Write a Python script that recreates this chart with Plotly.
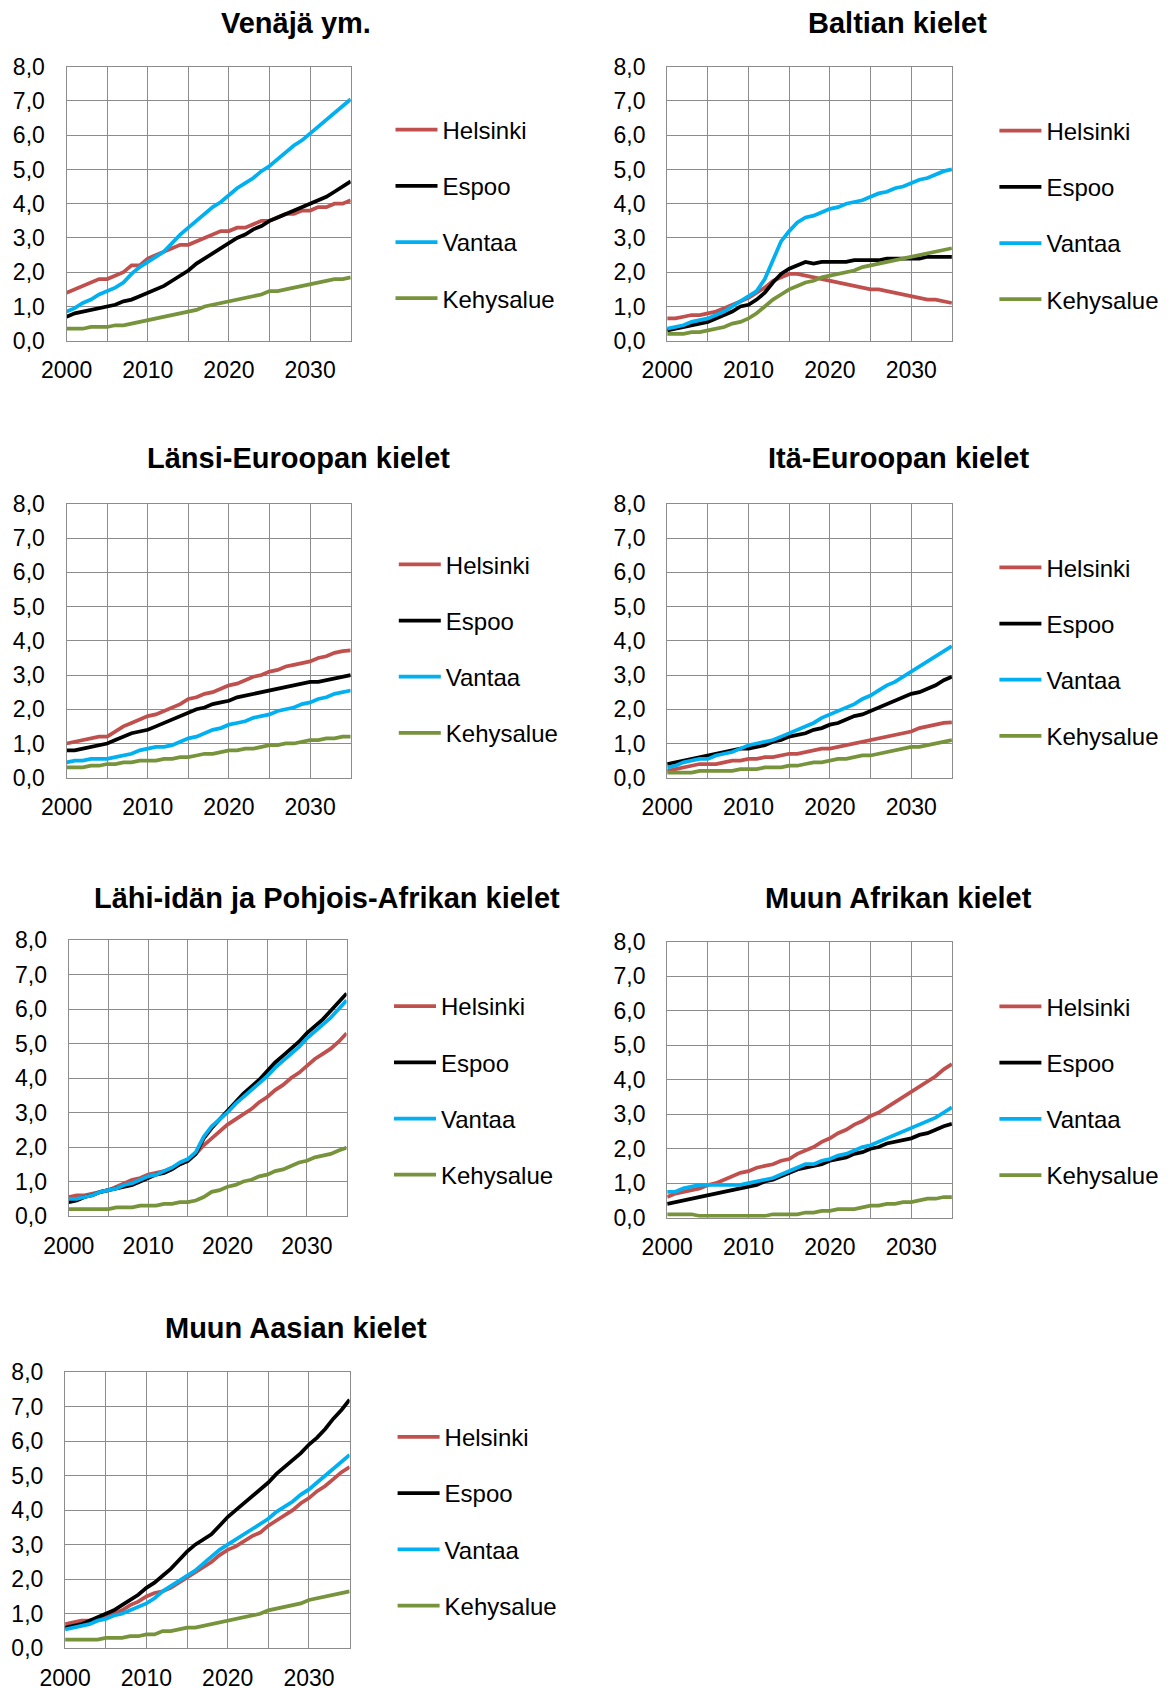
import plotly.graph_objects as go

years = list(range(2000, 2036))
series_names = ["Helsinki", "Espoo", "Vantaa", "Kehysalue"]
series_colors = ["#C0504D", "#000000", "#00B0F0", "#77933C"]
x_tickvals = [2000, 2005, 2010, 2015, 2020, 2025, 2030, 2035]
x_ticktext = ["2000", "", "2010", "", "2020", "", "2030", ""]
y_tickvals = [0, 1, 2, 3, 4, 5, 6, 7, 8]

titles = ["Venäjä ym.", "Baltian kielet", "Länsi-Euroopan kielet", "Itä-Euroopan kielet",
          "Lähi-idän ja Pohjois-Afrikan kielet", "Muun Afrikan kielet", "Muun Aasian kielet"]

# Venäjä ym.
venaja_helsinki = [1.4, 1.5, 1.6, 1.7, 1.8, 1.8, 1.9, 2.0, 2.2, 2.2, 2.4, 2.5, 2.6, 2.7, 2.8, 2.8, 2.9, 3.0,
                   3.1, 3.2, 3.2, 3.3, 3.3, 3.4, 3.5, 3.5, 3.6, 3.7, 3.7, 3.8, 3.8, 3.9, 3.9, 4.0, 4.0, 4.1]
venaja_espoo = [0.7, 0.8, 0.85, 0.9, 0.95, 1.0, 1.05, 1.15, 1.2, 1.3, 1.4, 1.5, 1.6, 1.75, 1.9, 2.05, 2.25, 2.4,
                2.55, 2.7, 2.85, 3.0, 3.1, 3.25, 3.35, 3.5, 3.6, 3.7, 3.8, 3.9, 4.0, 4.1, 4.2, 4.35, 4.5, 4.65]
venaja_vantaa = [0.85, 0.95, 1.1, 1.2, 1.35, 1.45, 1.55, 1.7, 1.95, 2.15, 2.3, 2.45, 2.6, 2.85, 3.1, 3.3, 3.5, 3.7,
                 3.9, 4.05, 4.25, 4.45, 4.6, 4.75, 4.95, 5.1, 5.3, 5.5, 5.7, 5.85, 6.05, 6.25, 6.45, 6.65, 6.85, 7.05]
venaja_kehys = [0.35, 0.35, 0.35, 0.4, 0.4, 0.4, 0.45, 0.45, 0.5, 0.55, 0.6, 0.65, 0.7, 0.75, 0.8, 0.85, 0.9, 1.0,
                1.05, 1.1, 1.15, 1.2, 1.25, 1.3, 1.35, 1.45, 1.45, 1.5, 1.55, 1.6, 1.65, 1.7, 1.75, 1.8, 1.8, 1.85]

# Baltian kielet
baltia_helsinki = [0.65, 0.65, 0.7, 0.75, 0.75, 0.8, 0.85, 0.95, 1.05, 1.15, 1.25, 1.4, 1.55, 1.75, 1.85, 1.95, 1.95, 1.9,
                   1.85, 1.8, 1.75, 1.7, 1.65, 1.6, 1.55, 1.5, 1.5, 1.45, 1.4, 1.35, 1.3, 1.25, 1.2, 1.2, 1.15, 1.1]
baltia_espoo = [0.3, 0.35, 0.4, 0.45, 0.5, 0.55, 0.65, 0.75, 0.85, 1.0, 1.05, 1.2, 1.4, 1.7, 1.95, 2.1, 2.2, 2.3,
                2.25, 2.3, 2.3, 2.3, 2.3, 2.35, 2.35, 2.35, 2.35, 2.4, 2.4, 2.4, 2.4, 2.4, 2.45, 2.45, 2.45, 2.45]
baltia_vantaa = [0.35, 0.4, 0.45, 0.55, 0.6, 0.65, 0.75, 0.85, 1.0, 1.15, 1.3, 1.45, 1.8, 2.35, 2.9, 3.2, 3.45, 3.6,
                 3.65, 3.75, 3.85, 3.9, 4.0, 4.05, 4.1, 4.2, 4.3, 4.35, 4.45, 4.5, 4.6, 4.7, 4.75, 4.85, 4.95, 5.0]
baltia_kehys = [0.2, 0.2, 0.2, 0.25, 0.25, 0.3, 0.35, 0.4, 0.5, 0.55, 0.65, 0.8, 1.0, 1.2, 1.35, 1.5, 1.6, 1.7,
                1.75, 1.85, 1.9, 1.95, 2.0, 2.05, 2.15, 2.2, 2.25, 2.3, 2.35, 2.4, 2.45, 2.5, 2.55, 2.6, 2.65, 2.7]

# Länsi-Euroopan kielet
lansi_helsinki = [1.0, 1.05, 1.1, 1.15, 1.2, 1.2, 1.35, 1.5, 1.6, 1.7, 1.8, 1.85, 1.95, 2.05, 2.15, 2.3, 2.35, 2.45,
                  2.5, 2.6, 2.7, 2.75, 2.85, 2.95, 3.0, 3.1, 3.15, 3.25, 3.3, 3.35, 3.4, 3.5, 3.55, 3.65, 3.7, 3.72]
lansi_espoo = [0.8, 0.8, 0.85, 0.9, 0.95, 1.0, 1.1, 1.2, 1.3, 1.35, 1.4, 1.5, 1.6, 1.7, 1.8, 1.9, 2.0, 2.05,
               2.15, 2.2, 2.25, 2.35, 2.4, 2.45, 2.5, 2.55, 2.6, 2.65, 2.7, 2.75, 2.8, 2.8, 2.85, 2.9, 2.95, 3.0]
lansi_vantaa = [0.45, 0.5, 0.5, 0.55, 0.55, 0.55, 0.6, 0.65, 0.7, 0.8, 0.85, 0.9, 0.9, 0.95, 1.05, 1.15, 1.2, 1.3,
                1.4, 1.45, 1.55, 1.6, 1.65, 1.75, 1.8, 1.85, 1.95, 2.0, 2.05, 2.15, 2.2, 2.3, 2.35, 2.45, 2.5, 2.55]
lansi_kehys = [0.3, 0.3, 0.3, 0.35, 0.35, 0.4, 0.4, 0.45, 0.45, 0.5, 0.5, 0.5, 0.55, 0.55, 0.6, 0.6, 0.65, 0.7,
               0.7, 0.75, 0.8, 0.8, 0.85, 0.85, 0.9, 0.95, 0.95, 1.0, 1.0, 1.05, 1.1, 1.1, 1.15, 1.15, 1.2, 1.2]

# Itä-Euroopan kielet
ita_helsinki = [0.2, 0.25, 0.3, 0.35, 0.4, 0.4, 0.4, 0.45, 0.5, 0.5, 0.55, 0.55, 0.6, 0.6, 0.65, 0.7, 0.7, 0.75,
                0.8, 0.85, 0.85, 0.9, 0.95, 1.0, 1.05, 1.1, 1.15, 1.2, 1.25, 1.3, 1.35, 1.45, 1.5, 1.55, 1.6, 1.62]
ita_espoo = [0.4, 0.45, 0.5, 0.55, 0.6, 0.65, 0.7, 0.75, 0.8, 0.85, 0.85, 0.9, 0.95, 1.05, 1.1, 1.2, 1.25, 1.3,
             1.4, 1.45, 1.55, 1.6, 1.7, 1.8, 1.85, 1.95, 2.05, 2.15, 2.25, 2.35, 2.45, 2.5, 2.6, 2.7, 2.85, 2.95]
ita_vantaa = [0.3, 0.35, 0.45, 0.5, 0.55, 0.55, 0.65, 0.7, 0.75, 0.85, 0.95, 1.0, 1.05, 1.1, 1.2, 1.3, 1.4, 1.5,
              1.6, 1.75, 1.85, 1.95, 2.05, 2.15, 2.3, 2.4, 2.55, 2.7, 2.8, 2.95, 3.1, 3.25, 3.4, 3.55, 3.7, 3.85]
ita_kehys = [0.15, 0.15, 0.15, 0.15, 0.2, 0.2, 0.2, 0.2, 0.2, 0.25, 0.25, 0.25, 0.3, 0.3, 0.3, 0.35, 0.35, 0.4,
             0.45, 0.45, 0.5, 0.55, 0.55, 0.6, 0.65, 0.65, 0.7, 0.75, 0.8, 0.85, 0.9, 0.9, 0.95, 1.0, 1.05, 1.1]

# Lähi-idän ja Pohjois-Afrikan kielet
lahi_helsinki = [0.55, 0.6, 0.6, 0.65, 0.7, 0.75, 0.85, 0.95, 1.05, 1.1, 1.2, 1.25, 1.3, 1.4, 1.5, 1.6, 1.8, 2.05,
                 2.25, 2.45, 2.65, 2.8, 2.95, 3.1, 3.3, 3.45, 3.65, 3.8, 4.0, 4.15, 4.35, 4.55, 4.7, 4.85, 5.05, 5.3]
lahi_espoo = [0.4, 0.45, 0.55, 0.6, 0.7, 0.75, 0.8, 0.85, 0.9, 1.0, 1.1, 1.2, 1.25, 1.35, 1.5, 1.6, 1.8, 2.25,
              2.55, 2.8, 3.05, 3.3, 3.55, 3.75, 3.95, 4.2, 4.45, 4.65, 4.85, 5.05, 5.3, 5.5, 5.7, 5.95, 6.2, 6.45]
lahi_vantaa = [0.5, 0.5, 0.55, 0.6, 0.7, 0.75, 0.8, 0.9, 0.95, 1.05, 1.15, 1.2, 1.3, 1.4, 1.55, 1.65, 1.85, 2.3,
               2.6, 2.8, 3.0, 3.25, 3.45, 3.65, 3.85, 4.05, 4.3, 4.5, 4.7, 4.9, 5.15, 5.35, 5.55, 5.75, 6.0, 6.25]
lahi_kehys = [0.2, 0.2, 0.2, 0.2, 0.2, 0.2, 0.25, 0.25, 0.25, 0.3, 0.3, 0.3, 0.35, 0.35, 0.4, 0.4, 0.45, 0.55,
              0.7, 0.75, 0.85, 0.9, 1.0, 1.05, 1.15, 1.2, 1.3, 1.35, 1.45, 1.55, 1.6, 1.7, 1.75, 1.8, 1.9, 1.98]

# Muun Afrikan kielet
afrikka_helsinki = [0.6, 0.7, 0.75, 0.8, 0.85, 0.95, 1.0, 1.1, 1.2, 1.3, 1.35, 1.45, 1.5, 1.55, 1.65, 1.7, 1.85, 1.95,
                    2.05, 2.2, 2.3, 2.45, 2.55, 2.7, 2.8, 2.95, 3.05, 3.2, 3.35, 3.5, 3.65, 3.8, 3.95, 4.1, 4.3, 4.45]
afrikka_espoo = [0.4, 0.45, 0.5, 0.55, 0.6, 0.65, 0.7, 0.75, 0.8, 0.85, 0.9, 0.95, 1.05, 1.1, 1.2, 1.3, 1.4, 1.45,
                 1.5, 1.55, 1.65, 1.7, 1.75, 1.85, 1.9, 2.0, 2.05, 2.15, 2.2, 2.25, 2.3, 2.4, 2.45, 2.55, 2.65, 2.72]
afrikka_vantaa = [0.75, 0.75, 0.85, 0.9, 0.95, 0.95, 0.95, 0.95, 0.95, 0.95, 1.0, 1.05, 1.1, 1.15, 1.25, 1.35, 1.45, 1.55,
                  1.55, 1.65, 1.7, 1.8, 1.85, 1.95, 2.05, 2.1, 2.2, 2.3, 2.4, 2.5, 2.6, 2.7, 2.8, 2.9, 3.05, 3.2]
afrikka_kehys = [0.1, 0.1, 0.1, 0.1, 0.05, 0.05, 0.05, 0.05, 0.05, 0.05, 0.05, 0.05, 0.05, 0.1, 0.1, 0.1, 0.1, 0.15,
                 0.15, 0.2, 0.2, 0.25, 0.25, 0.25, 0.3, 0.35, 0.35, 0.4, 0.4, 0.45, 0.45, 0.5, 0.55, 0.55, 0.6, 0.6]

# Muun Aasian kielet
aasia_helsinki = [0.7, 0.75, 0.8, 0.8, 0.85, 0.9, 1.0, 1.1, 1.25, 1.35, 1.5, 1.6, 1.65, 1.75, 1.9, 2.05, 2.2, 2.35,
                  2.5, 2.7, 2.85, 2.95, 3.1, 3.25, 3.35, 3.55, 3.7, 3.85, 4.0, 4.2, 4.35, 4.55, 4.7, 4.9, 5.1, 5.25]
aasia_espoo = [0.6, 0.65, 0.7, 0.8, 0.9, 1.0, 1.1, 1.25, 1.4, 1.55, 1.75, 1.9, 2.1, 2.3, 2.55, 2.8, 3.0, 3.15,
               3.3, 3.55, 3.8, 4.0, 4.2, 4.4, 4.6, 4.8, 5.05, 5.25, 5.45, 5.65, 5.9, 6.1, 6.35, 6.65, 6.9, 7.2]
aasia_vantaa = [0.55, 0.6, 0.65, 0.7, 0.8, 0.85, 0.95, 1.0, 1.1, 1.2, 1.3, 1.45, 1.65, 1.8, 1.95, 2.1, 2.25, 2.45,
                2.65, 2.85, 3.0, 3.15, 3.3, 3.45, 3.6, 3.75, 3.95, 4.1, 4.25, 4.45, 4.6, 4.8, 5.0, 5.2, 5.4, 5.6]
aasia_kehys = [0.25, 0.25, 0.25, 0.25, 0.25, 0.3, 0.3, 0.3, 0.35, 0.35, 0.4, 0.4, 0.5, 0.5, 0.55, 0.6, 0.6, 0.65,
               0.7, 0.75, 0.8, 0.85, 0.9, 0.95, 1.0, 1.1, 1.15, 1.2, 1.25, 1.3, 1.4, 1.45, 1.5, 1.55, 1.6, 1.65]

panel_data = [
    [venaja_helsinki, venaja_espoo, venaja_vantaa, venaja_kehys],
    [baltia_helsinki, baltia_espoo, baltia_vantaa, baltia_kehys],
    [lansi_helsinki, lansi_espoo, lansi_vantaa, lansi_kehys],
    [ita_helsinki, ita_espoo, ita_vantaa, ita_kehys],
    [lahi_helsinki, lahi_espoo, lahi_vantaa, lahi_kehys],
    [afrikka_helsinki, afrikka_espoo, afrikka_vantaa, afrikka_kehys],
    [aasia_helsinki, aasia_espoo, aasia_vantaa, aasia_kehys],
]

# The page body has an 8px margin, so the figure is offset by 8px.
OFF = 8
W, H = 1172 - OFF, 1688 - OFF


def px_x(px):
    return (px - OFF) / W


def px_y(py):
    return 1 - (py - OFF) / H


# layout in window pixels: plot x0,x1, y0(top),y1(bottom), legend line start x, legend centre y, title centre x, y
geom = [
    (66.6, 350.7, 66.7, 340.7, 395.5, 214, 296, 23),
    (667.2, 951.9, 66.7, 340.7, 999.4, 215, 898, 23),
    (66.6, 350.7, 504, 777.7, 398.8, 648.7, 298, 458.3),
    (667.2, 951.9, 504, 777.7, 999.4, 651.7, 899, 458.3),
    (68.8, 346.6, 940, 1216, 394, 1090.5, 327.4, 898.3),
    (667.2, 951.9, 941.7, 1217.7, 999.4, 1090.8, 899, 898.3),
    (65.1, 349.6, 1372, 1648.3, 397.6, 1521.3, 296, 1328.3),
]

FONT = "Liberation Sans, Arial, sans-serif"
GRID = "#8c8c8c"

fig = go.Figure()
annotations = []
layout_axes = {}
for i, (title, data, g) in enumerate(zip(titles, panel_data, geom)):
    x0, x1, y0, y1, lx, lyc, tx, ty = g
    n = i + 1
    xa = "x" if n == 1 else f"x{n}"
    ya = "y" if n == 1 else f"y{n}"
    leg = "legend" if n == 1 else f"legend{n}"
    for name, color, vals in zip(series_names, series_colors, data):
        fig.add_trace(go.Scatter(
            x=years, y=vals, name=name, mode="lines",
            line=dict(color=color, width=3.75),
            xaxis=xa, yaxis=ya, legend=leg, legendgroup=f"{n}-{name}",
            hoverinfo="skip",
        ))
    layout_axes[f"xaxis{'' if n == 1 else n}"] = dict(
        domain=[px_x(x0), px_x(x1)], anchor=ya, range=[2000, 2035], automargin=False,
        tickmode="array", tickvals=x_tickvals, ticktext=x_ticktext,
        showgrid=True, gridcolor=GRID, gridwidth=1.3,
        showline=True, linecolor=GRID, linewidth=1.3, mirror=True,
        ticks="outside", ticklen=9, tickcolor="rgba(0,0,0,0)",
        tickfont=dict(family=FONT, size=23, color="#000000"),
        zeroline=False, fixedrange=True,
    )
    layout_axes[f"yaxis{'' if n == 1 else n}"] = dict(
        domain=[px_y(y1), px_y(y0)], anchor=xa, range=[0, 8], automargin=False,
        tickmode="array", tickvals=y_tickvals, tickformat=".1f",
        showgrid=True, gridcolor=GRID, gridwidth=1.3,
        showline=True, linecolor=GRID, linewidth=1.3, mirror=True,
        ticks="outside", ticklen=16, tickcolor="rgba(0,0,0,0)",
        tickfont=dict(family=FONT, size=23, color="#000000"),
        zeroline=False, fixedrange=True,
    )
    layout_axes[leg] = dict(
        x=px_x(lx - 5), xanchor="left", y=px_y(lyc), yanchor="middle",
        font=dict(family=FONT, size=24, color="#000000"),
        bgcolor="rgba(0,0,0,0)", borderwidth=0, tracegroupgap=22,
        itemwidth=42,
        traceorder="grouped", itemclick=False, itemdoubleclick=False,
    )
    annotations.append(dict(
        text=f"<b>{title}</b>", x=px_x(tx), y=px_y(ty), xref="paper", yref="paper",
        xanchor="center", yanchor="middle", showarrow=False,
        font=dict(family=FONT, size=29, color="#000000"),
    ))

fig.update_layout(
    width=W, height=H, margin=dict(l=0, r=0, t=0, b=0, autoexpand=False),
    paper_bgcolor="white", plot_bgcolor="white",
    separators=", ", showlegend=True, annotations=annotations,
    **layout_axes,
)

fig.write_html("out.html")
